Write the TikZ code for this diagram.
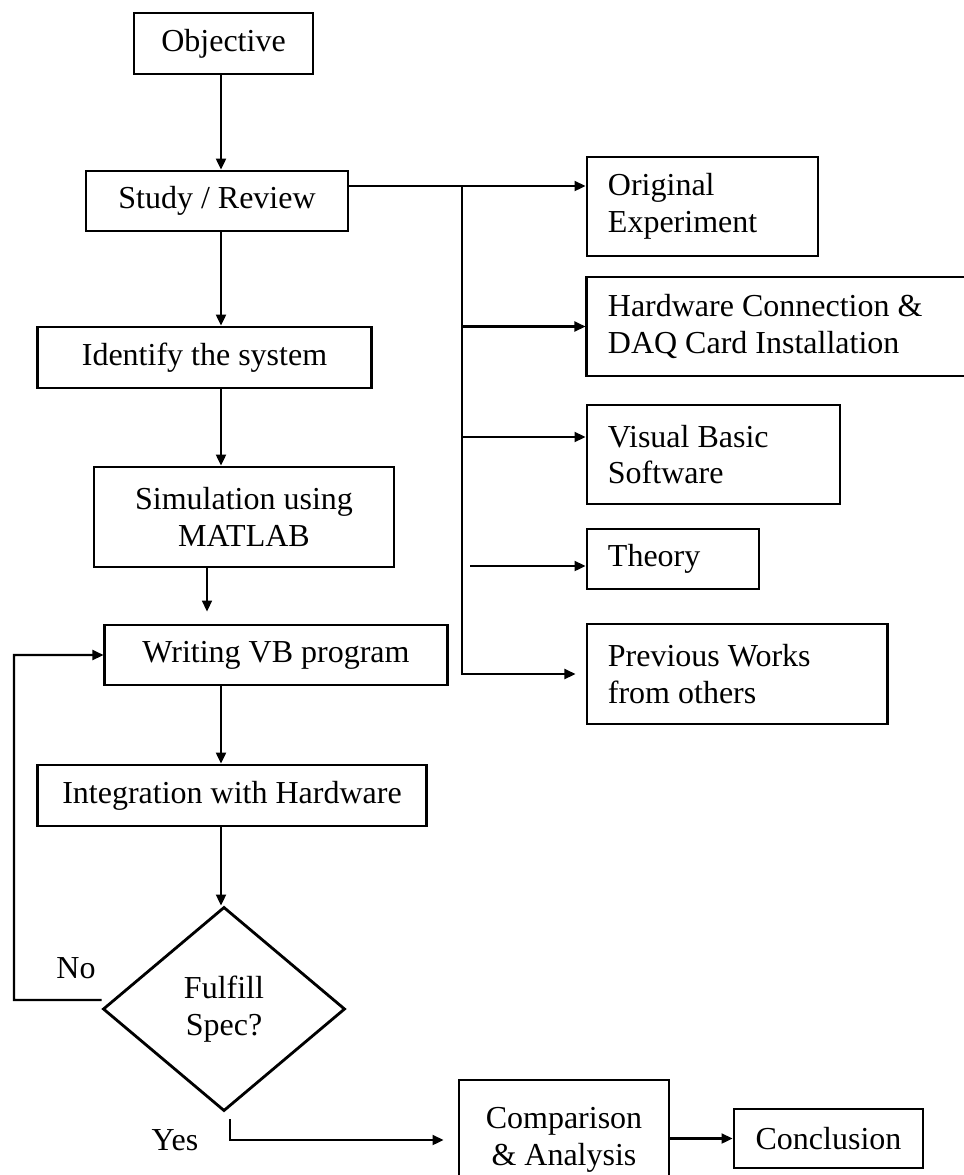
\documentclass[tikz,border=0pt]{standalone}
\usepackage{fontspec}
\setmainfont{Liberation Serif}
\usetikzlibrary{arrows.meta,shapes.geometric}

\begin{document}
\begin{tikzpicture}[x=0.01cm,y=-0.01cm,every node/.style={font=\fontsize{9.1}{10.4}\selectfont},
  box/.style={draw,line width=.8pt,inner sep=0pt,align=center},
  side/.style={draw,line width=.8pt,inner xsep=0.21cm,inner ysep=0pt,align=flush left},
  arr/.style={line width=.6pt,-{Triangle[length=0.11cm,width=0.1cm]}}]
\useasboundingbox (0,0) rectangle (964,1175);
\coordinate (spine) at (221,0);
\coordinate (simdrop) at (207,0);
\coordinate (branch) at (462,186);
\coordinate (thstart) at (470,566);
\coordinate (noback) at (14,1000);
% main column
\node[box,minimum width=1.79cm,minimum height=0.61cm] (obj) at (223.5,43.5) {Objective};
\node[box,minimum width=2.62cm,minimum height=0.60cm] (study) at (217,201) {Study / Review};
\node[box,minimum width=3.33cm,minimum height=0.61cm] (ident) at (204.5,357.5) {Identify the system};
\node[box,minimum width=3.00cm,minimum height=1.00cm] (sim) at (244,517) {Simulation using\\MATLAB};
\node[box,minimum width=3.42cm,minimum height=0.60cm] (write) at (276,655) {Writing VB program};
\node[box,minimum width=3.88cm,minimum height=0.61cm] (integ) at (232,795.5) {Integration with Hardware};
\node[box,diamond,minimum width=2.42cm,minimum height=2.04cm] (spec) at (224,1009) {Fulfill\\Spec?};
\node[box,minimum width=2.10cm,minimum height=1.20cm] (comp) at (564,1140) {Comparison\\\& Analysis};
\node[box,minimum width=1.89cm,minimum height=0.59cm] (conc) at (828.5,1138.5) {Conclusion};
\node (no) at (76,968) {No};
\node (yes) at (175,1140) {Yes};
% review branches
\node[side,text width=1.89cm,minimum height=0.99cm] (orig) at (702.5,206.5) {Original\\Experiment};
\node[side,text width=3.48cm,minimum height=0.99cm] (hw) at (782,326.5) {Hardware Connection \&\\DAQ Card Installation};
\node[side,text width=2.11cm,minimum height=0.99cm] (vb) at (713.5,454.5) {Visual Basic\\Software};
\node[side,text width=1.30cm,minimum height=0.60cm] (theory) at (673,559) {Theory};
\node[side,text width=2.58cm,minimum height=1.00cm] (prev) at (737,674) {Previous Works\\from others};
\coordinate (vbin) at ([yshift=0.175cm]vb.west);

\draw[arr] (obj.south -| spine) -- (study.north -| spine);
\draw[arr] (study.south -| spine) -- (ident.north -| spine);
\draw[arr] (ident.south -| spine) -- (sim.north -| spine);
\draw[arr,line width=.45pt,shorten >=0.12cm] (sim.south -| simdrop) -- (write.north -| simdrop);
\draw[arr] (write.south -| spine) -- (integ.north -| spine);
\draw[arr] (integ.south -| spine) -- (spec.north -| spine);
\draw[arr] ([yshift=0.09cm]spec.west) -- (noback) |- (write.west);
\draw[arr,shorten >=0.14cm] ([shift={(0.06cm,-0.07cm)}]spec.south) |- (comp.west);
\draw[arr] (comp.east |- conc.west) -- (conc.west);

\draw[arr] (study.east |- branch) -- (branch -| orig.west);
\draw[arr,shorten >=0.1cm] (branch) |- (prev.west);
\draw[arr] (branch |- hw.west) -- (hw.west);
\draw[arr] (branch |- vbin) -- (vbin);
\draw[arr] (thstart) -- (thstart -| theory.west);
\end{tikzpicture}
\end{document}
